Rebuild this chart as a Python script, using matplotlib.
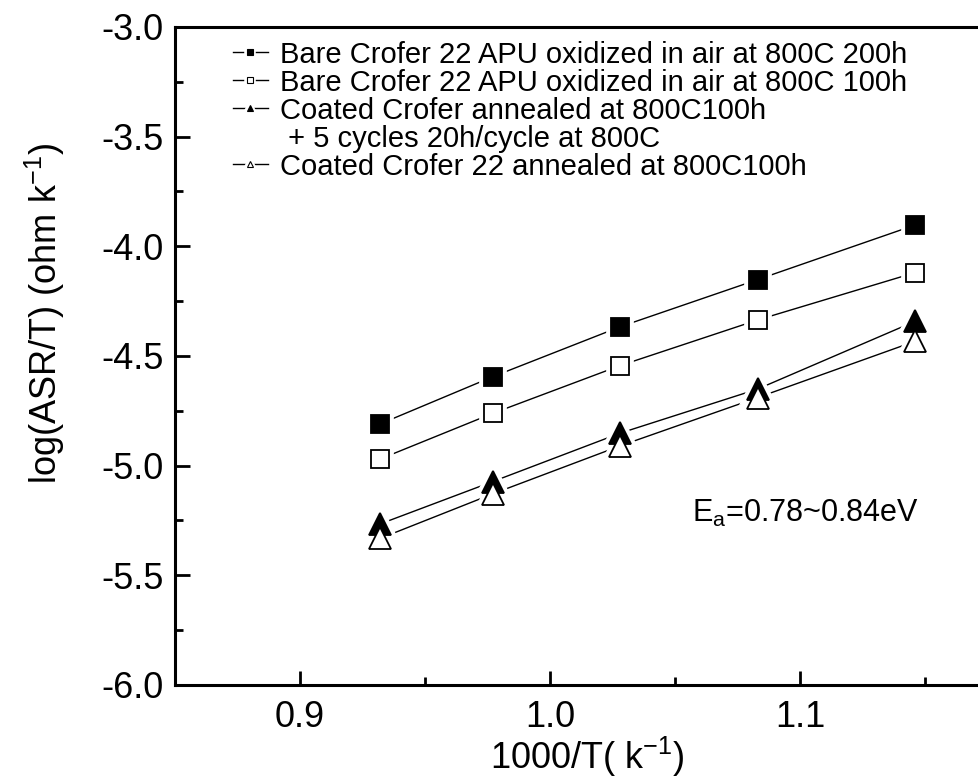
import matplotlib
matplotlib.use("Agg")
import matplotlib.pyplot as plt
from matplotlib.lines import Line2D
from matplotlib.ticker import MultipleLocator

# 1000/T values (k^-1)
inv_T = [0.932, 0.977, 1.028, 1.083, 1.146]

# log(ASR/T) for each sample
bare_200h = [-4.81, -4.595, -4.367, -4.152, -3.903]
bare_100h = [-4.97, -4.762, -4.544, -4.336, -4.120]
coated_cycled = [-5.266, -5.073, -4.852, -4.651, -4.342]
coated_100h = [-5.332, -5.129, -4.910, -4.690, -4.433]

x_ticks = [0.9, 1.0, 1.1]

labels = [
    "Bare Crofer 22 APU oxidized in air at 800C 200h",
    "Bare Crofer 22 APU oxidized in air at 800C 100h",
    "Coated Crofer annealed at 800C100h",
    "Coated Crofer 22 annealed at 800C100h",
]
extra_label = " + 5 cycles 20h/cycle at 800C"
ea_text = "E$_a$=0.78~0.84eV"

plt.rcParams['font.family'] = ['Liberation Sans', 'DejaVu Sans']
plt.rcParams['mathtext.default'] = 'regular'

fig = plt.figure(figsize=(9.79, 7.84), dpi=100)
# axes runs past the right edge of the picture, like the cropped original
ax = fig.add_axes([0.1788, 0.1263, 0.8938, 0.8393])

series = [bare_200h, bare_100h, coated_cycled, coated_100h]
markers = ['s', 's', '^', '^']
faces = ['black', 'white', 'black', 'white']
sizes = [13.5, 13.5, 16.5, 16.5]

handles = []
for ys, m, fc, ms, lab in zip(series, markers, faces, sizes, labels):
    ax.plot(inv_T, ys, color='black', lw=1.0, zorder=2)
    # white halo so the line stops short of the marker
    ax.plot(inv_T, ys, ls='none', marker=m, ms=ms, mfc='white', mec='white',
            mew=7, zorder=3)
    ax.plot(inv_T, ys, ls='none', marker=m, ms=ms, mfc=fc, mec='black',
            mew=1.3, zorder=4)
    h = (Line2D([], [], color='black', lw=1.0),
         Line2D([], [], ls='none', marker=m, ms=5, mfc='white', mec='white', mew=4),
         Line2D([], [], ls='none', marker=m, ms=5, mfc=fc, mec='black', mew=0.8))
    handles.append(h)

blank = Line2D([], [], ls='none')
leg_handles = [handles[0], handles[1], handles[2], blank, handles[3]]
leg_labels = [labels[0], labels[1], labels[2], extra_label, labels[3]]
ax.legend(leg_handles, leg_labels, loc='upper left', frameon=False,
          fontsize=21, handlelength=1.2, handletextpad=0.4,
          labelspacing=0.0, borderaxespad=0.0,
          bbox_to_anchor=(0.226, 0.963), bbox_transform=fig.transFigure)

ax.text(1.0568, -5.216, ea_text, fontsize=22, ha='left', va='center')

ax.set_xlim(0.85, 1.20)
ax.set_ylim(-6.0, -3.0)
ax.set_xticks(x_ticks)
ax.xaxis.set_minor_locator(MultipleLocator(0.05))
ax.yaxis.set_major_locator(MultipleLocator(0.5))
ax.yaxis.set_minor_locator(MultipleLocator(0.25))
ax.xaxis.set_major_formatter(plt.FormatStrFormatter('%.1f'))
ax.yaxis.set_major_formatter(plt.FormatStrFormatter('%.1f'))

ax.tick_params(which='both', direction='in', width=2, labelsize=26,
               top=False, right=False)
ax.tick_params(axis='x', which='major', length=10, pad=11)
ax.tick_params(axis='x', which='minor', length=6)
ax.tick_params(axis='y', which='major', length=11, pad=8)
ax.tick_params(axis='y', which='minor', length=6)
for sp in ax.spines.values():
    sp.set_linewidth(2.2)

ax.set_xlabel("1000/T( k$^{-1}$)", fontsize=26)
ax.set_ylabel("log(ASR/T) (ohm k$^{-1}$)", fontsize=26)
ax.xaxis.set_label_coords(0.60, 0.063, transform=fig.transFigure)
ax.yaxis.set_label_coords(0.068, 0.60, transform=fig.transFigure)

fig.savefig("out.png", dpi=100)
